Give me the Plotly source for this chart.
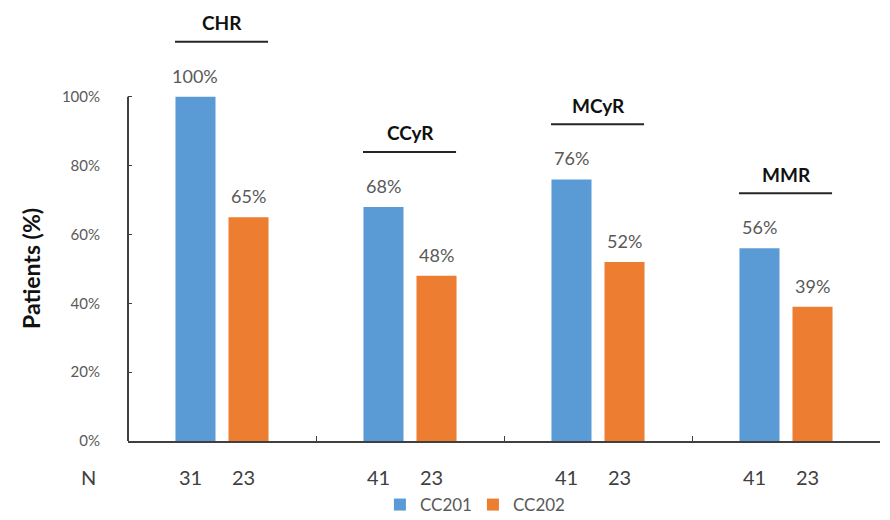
import plotly.graph_objects as go

# Response categories and response rates per study
categories = ["CHR", "CCyR", "MCyR", "MMR"]
cc201_rate = [100, 68, 76, 56]
cc202_rate = [65, 48, 52, 39]
cc201_n = [31, 41, 41, 41]
cc202_n = [23, 23, 23, 23]
series_names = ["CC201", "CC202"]
y_ticks = [0, 20, 40, 60, 80, 100]

BLUE = "#5B9BD5"
ORANGE = "#ED7D31"
GRAY = "#595959"
FONT = "Lato"

idx = list(range(len(categories)))
offset = 0.141
bar_w = 0.213

fig = go.Figure()
fig.add_trace(go.Bar(
    x=[i - offset for i in idx], y=[v / 100 for v in cc201_rate],
    width=bar_w, name=series_names[0], marker=dict(color=BLUE, line=dict(width=0)),
))
fig.add_trace(go.Bar(
    x=[i + offset for i in idx], y=[v / 100 for v in cc202_rate],
    width=bar_w, name=series_names[1], marker=dict(color=ORANGE, line=dict(width=0)),
))

annotations = []
shapes = []

for i in idx:
    # value labels above the bars
    for xv, val in ((i - offset, cc201_rate[i]), (i + offset, cc202_rate[i])):
        annotations.append(dict(
            x=xv, y=val / 100, xref="x", yref="y", text=f"{val}%",
            showarrow=False, yanchor="middle", yshift=21,
            font=dict(family=FONT, size=18, color=GRAY),
        ))
    # N row under the axis
    for xv, n in ((i - offset, cc201_n[i]), (i + offset, cc202_n[i])):
        annotations.append(dict(
            x=xv, y=0, xref="x", yref="y", text=str(n),
            showarrow=False, yanchor="middle", yshift=-36, xshift=-5,
            font=dict(family=FONT, size=20, color="#404040"),
        ))
    # category headers with an underline
    top = max(cc201_rate[i], cc202_rate[i]) / 100 + 0.16
    shapes.append(dict(
        type="line", xref="x", yref="y", x0=i - 0.25, x1=i + 0.245, y0=top, y1=top,
        line=dict(color="#262626", width=2),
    ))
    annotations.append(dict(
        x=i, y=top, xref="x", yref="y", text=f"<b>{categories[i]}</b>",
        showarrow=False, yanchor="middle", yshift=19,
        font=dict(family=FONT, size=19, color="#111111"),
    ))

annotations.append(dict(
    x=0, y=0, xref="paper", yref="y", text="N", showarrow=False,
    xanchor="center", yanchor="middle",
    xshift=-40, yshift=-36, font=dict(family=FONT, size=20, color="#404040"),
))
annotations.append(dict(
    x=0, y=0.5, xref="paper", yref="y", text="<b>Patients (%)</b>", showarrow=False,
    xanchor="center", yanchor="middle",
    textangle=-90, xshift=-97, font=dict(family=FONT, size=23, color="#111111"),
))

# vertical axis line covering 0–100%
shapes.append(dict(
    type="line", xref="paper", yref="y", x0=0, x1=0, y0=0, y1=1,
    line=dict(color="#404040", width=2),
))

fig.update_layout(
    width=890, height=520,
    margin=dict(l=128, r=10, t=28, b=79, autoexpand=False),
    paper_bgcolor="white", plot_bgcolor="white",
    barmode="overlay",
    showlegend=True,
    legend=dict(
        orientation="h", x=0.335, xanchor="left",
        y=-0.155, yanchor="middle",
        font=dict(family=FONT, size=17, color=GRAY),
        entrywidth=48, entrywidthmode="pixels",
    ),
    xaxis=dict(
        range=[-0.5, 3.5], showgrid=False, zeroline=False,
        showline=True, linecolor="#404040", linewidth=2,
        tickmode="array", tickvals=[0.5, 1.5, 2.5, 3.5], ticks="inside",
        ticklen=5, tickcolor="#404040", showticklabels=False,
    ),
    yaxis=dict(
        range=[0, 1.2], showgrid=False, zeroline=False, showline=False,
        tickmode="array", tickvals=[t / 100 for t in y_ticks],
        ticktext=[f"{t}%" for t in y_ticks],
        ticks="inside", ticklen=4, tickcolor="#404040",
        ticklabelstandoff=27,
        tickfont=dict(family=FONT, size=15, color=GRAY),
    ),
    annotations=annotations,
    shapes=shapes,
)

fig.write_html("out.html")
